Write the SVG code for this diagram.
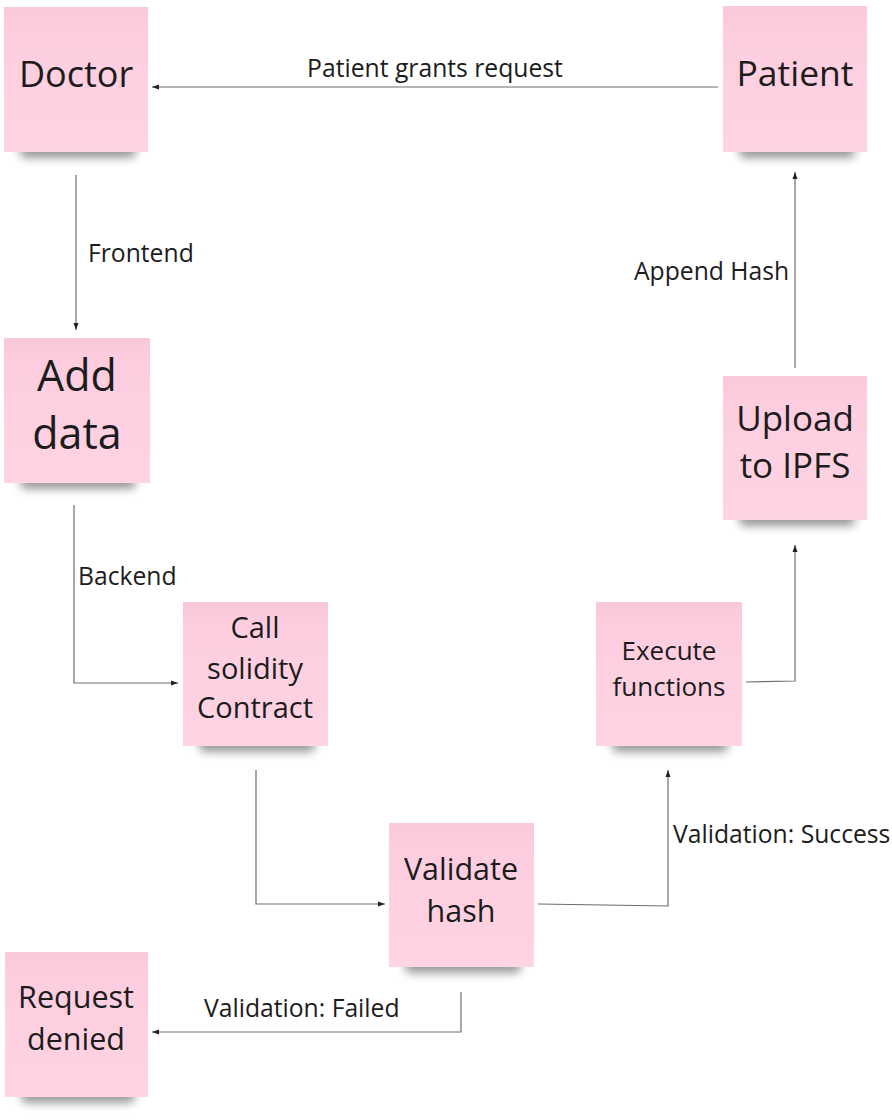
<svg xmlns="http://www.w3.org/2000/svg" width="892" height="1120" viewBox="0 0 892 1120">
<style>
.note{fill:url(#pink)}
.sh{fill:#000;opacity:0.4;filter:url(#blur)}
.nt{font-family:"Open Sans","Noto Sans","Liberation Sans",sans-serif;fill:#1c1c1c;text-anchor:middle}
.lbl{font-family:"Open Sans","Noto Sans","Liberation Sans",sans-serif;fill:#1c1c1c;font-size:24.7px}
.c{fill:none;stroke:#6e6e6e;stroke-width:1.2;marker-end:url(#ah)}
</style>
<defs>
<linearGradient id="pink" x1="0" y1="0" x2="0" y2="1">
<stop offset="0" stop-color="#f9c9db"/>
<stop offset="0.15" stop-color="#fdcddf"/>
<stop offset="1" stop-color="#ffd4e3"/>
</linearGradient>
<filter id="blur" x="-20%" y="-60%" width="140%" height="220%"><feGaussianBlur stdDeviation="5"/></filter>
<marker id="ah" markerWidth="8" markerHeight="6" refX="7" refY="3" orient="auto" markerUnits="userSpaceOnUse">
<path d="M0,0.5 L7,3 L0,5.5 Z" fill="#222"/>
</marker>
</defs>
<g id="connectors">
<path class="c" d="M718,87 H152"/>
<path class="c" d="M76,175 V330"/>
<path class="c" d="M74,505 V683 H178"/>
<path class="c" d="M256,770 V904 H385"/>
<path class="c" d="M538,904 L668,906 V770"/>
<path class="c" d="M746,682 L795,681 V545"/>
<path class="c" d="M795,368 V172"/>
<path class="c" d="M461,992 V1032 H152"/>
<text class="lbl" x="435" y="77" text-anchor="middle">Patient grants request</text>
<text class="lbl" x="88" y="262">Frontend</text>
<text class="lbl" x="78" y="585">Backend</text>
<text class="lbl" x="634" y="280">Append Hash</text>
<text class="lbl" x="673" y="843">Validation: Success</text>
<text class="lbl" x="204" y="1017">Validation: Failed</text>
</g>
<g id="doctor">
<rect class="sh" x="20" y="138" width="116" height="20" rx="6"/>
<rect class="note" x="4" y="7" width="144" height="145"/>
<text class="nt" x="76" y="87" font-size="36">Doctor</text>
</g>
<g id="patient">
<rect class="sh" x="739" y="138" width="116" height="20" rx="6"/>
<rect class="note" x="723" y="6" width="144" height="146"/>
<text class="nt" x="795" y="86" font-size="35.5">Patient</text>
</g>
<g id="add-data">
<rect class="sh" x="20" y="469" width="116" height="20" rx="6"/>
<rect class="note" x="4" y="338" width="146" height="145"/>
<text class="nt" x="77" y="391" font-size="43">Add</text>
<text class="nt" x="77" y="449" font-size="43">data</text>
</g>
<g id="upload">
<rect class="sh" x="739" y="506" width="116" height="20" rx="6"/>
<rect class="note" x="723" y="376" width="144" height="144"/>
<text class="nt" x="795" y="431" font-size="35">Upload</text>
<text class="nt" x="795" y="478" font-size="35">to IPFS</text>
</g>
<g id="call-contract">
<rect class="sh" x="199" y="732" width="116" height="20" rx="6"/>
<rect class="note" x="183" y="602" width="145" height="144"/>
<text class="nt" x="255" y="638" font-size="29">Call</text>
<text class="nt" x="255" y="679" font-size="29">solidity</text>
<text class="nt" x="255" y="718" font-size="29">Contract</text>
</g>
<g id="execute">
<rect class="sh" x="612" y="732" width="116" height="20" rx="6"/>
<rect class="note" x="596" y="602" width="146" height="144"/>
<text class="nt" x="669" y="660" font-size="26">Execute</text>
<text class="nt" x="669" y="696" font-size="26">functions</text>
</g>
<g id="validate">
<rect class="sh" x="405" y="953" width="116" height="20" rx="6"/>
<rect class="note" x="389" y="823" width="145" height="144"/>
<text class="nt" x="461" y="880" font-size="30.5">Validate</text>
<text class="nt" x="461" y="922" font-size="30.5">hash</text>
</g>
<g id="request-denied">
<rect class="sh" x="21" y="1083" width="114" height="20" rx="6"/>
<rect class="note" x="5" y="952" width="143" height="145"/>
<text class="nt" x="76" y="1008" font-size="30.5">Request</text>
<text class="nt" x="76" y="1050" font-size="30.5">denied</text>
</g>
</svg>
